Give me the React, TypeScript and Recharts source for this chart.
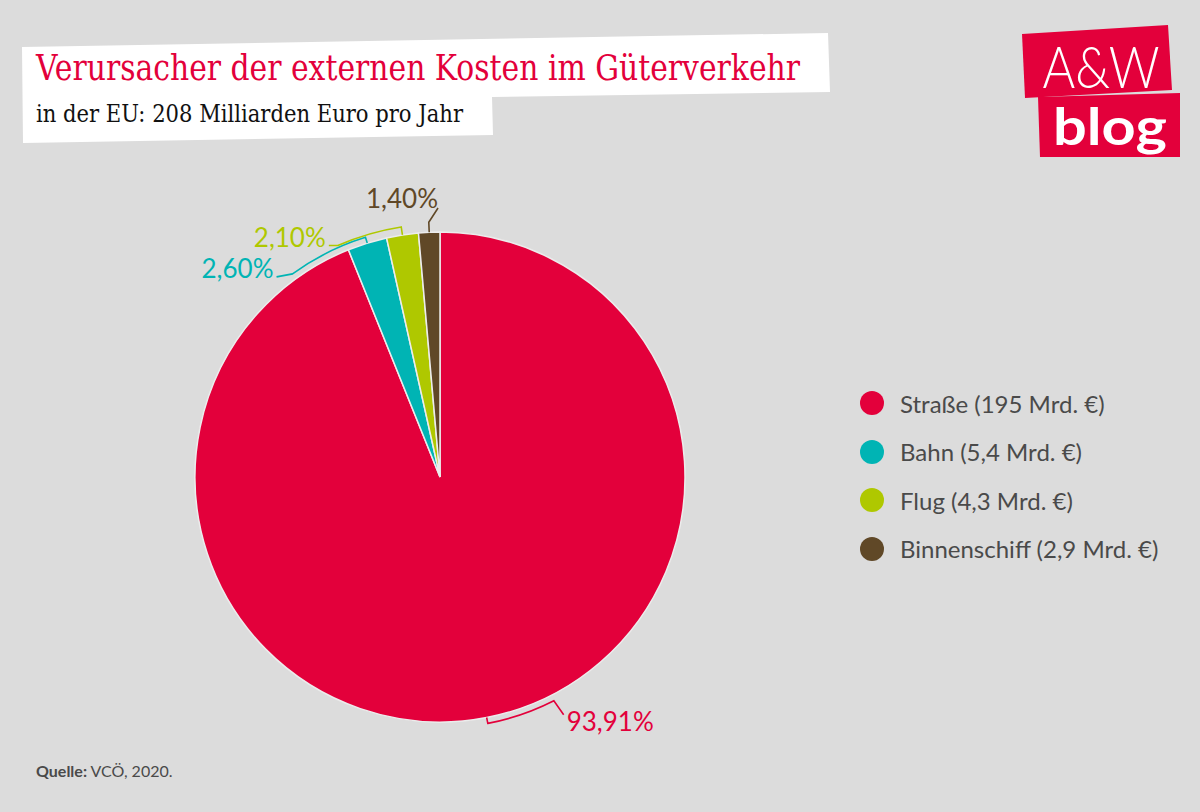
import { PieChart, Pie, Cell, Legend } from "recharts";

const categories = ["Straße", "Bahn", "Flug", "Binnenschiff"];
const costsBn = [195, 5.4, 4.3, 2.9];
const shares = [93.91, 2.6, 2.1, 1.4];
const colors = ["#e3003b", "#00b4b4", "#afc800", "#604827"];

const fmt = (n: number, digits?: number) =>
  (digits === undefined ? String(n) : n.toFixed(digits)).replace(".", ",");

const data = categories.map((name, i) => ({
  name,
  value: shares[i],
  legend: `${name} (${fmt(costsBn[i])} Mrd. €)`,
}));

// how each leader line is drawn: bracket offset, arc span (deg), tail style
const leaders = [
  { gap: 6, span: 16, tail: "radial" },
  { gap: 6, span: 18.7, tail: "left" },
  { gap: 8, span: 15, tail: "left" },
  { gap: 10, span: 0, tail: "up" },
];

const RAD = Math.PI / 180;
const pt = (cx: number, cy: number, r: number, a: number) => ({
  x: cx + r * Math.cos(a * RAD),
  y: cy - r * Math.sin(a * RAD),
});

const SANS = "Lato, 'Open Sans', sans-serif";

function renderLabel(props: any) {
  const { cx, cy, midAngle, outerRadius, index } = props;
  const cfg = leaders[index];
  const color = colors[index];
  const r = outerRadius + cfg.gap;
  const a0 = pt(cx, cy, outerRadius, midAngle);
  const a1 = pt(cx, cy, r, midAngle);
  const endA = midAngle + cfg.span;
  const a2 = pt(cx, cy, r, endA);
  let d = `M${a0.x},${a0.y} L${a1.x},${a1.y}`;
  if (cfg.span !== 0) d += ` A${r},${r} 0 0 0 ${a2.x},${a2.y}`;
  let tail = a2;
  let tx = 0;
  let ty = 0;
  let anchor: "start" | "end" = "end";
  if (cfg.tail === "radial") {
    tail = pt(cx, cy, outerRadius + 23, endA + 0.5);
    tx = tail.x + 3;
    ty = tail.y + 16;
    anchor = "start";
  } else if (cfg.tail === "left") {
    tail = { x: a2.x - (index === 1 ? 16 : 9), y: a2.y + (index === 1 ? 3 : 0) };
    tx = tail.x - 3;
    ty = tail.y + 1;
  } else {
    tail = pt(cx, cy, outerRadius + 24, midAngle - 2.1);
    tx = tail.x;
    ty = tail.y;
  }
  d += ` L${tail.x},${tail.y}`;
  return (
    <g key={`lbl-${index}`}>
      <path d={d} fill="none" stroke={color} strokeWidth={1.6} />
      <text x={tx} y={ty} textAnchor={anchor} fill={color} fontSize={26} fontFamily={SANS}>
        {fmt(shares[index], 2)}%
      </text>
    </g>
  );
}

function renderLegend() {
  return (
    <div style={{ fontFamily: SANS }}>
      {data.map((d, i) => (
        <div key={d.name} style={{ display: "flex", alignItems: "center", height: 48.5 }}>
          <span
            style={{
              width: 24,
              height: 24,
              borderRadius: 12,
              background: colors[i],
              display: "inline-block",
              marginRight: 16,
            }}
          />
          <span style={{ fontSize: 24, color: "#4a4a4a" }}>{d.legend}</span>
        </div>
      ))}
    </div>
  );
}

export default function App() {
  return (
    <div
      style={{
        position: "absolute",
        left: 0,
        top: 0,
        width: 1200,
        height: 812,
        background: "#dcdcdc",
        overflow: "hidden",
      }}
    >
      <svg width={1200} height={812} style={{ position: "absolute", left: 0, top: 0 }}>
        <polygon
          points="22,47 828,33 830,92 492,97 493,135 23,143"
          fill="#ffffff"
        />
        <text
          x={36}
          y={80}
          fill="#e3003b"
          fontSize={35}
          fontFamily="'DejaVu Serif', serif"
          textLength={764}
          lengthAdjust="spacingAndGlyphs"
        >
          Verursacher der externen Kosten im Güterverkehr
        </text>
        <text
          x={36}
          y={122}
          fill="#111111"
          fontSize={25}
          fontFamily="'DejaVu Serif', serif"
          textLength={427}
          lengthAdjust="spacingAndGlyphs"
        >
          in der EU: 208 Milliarden Euro pro Jahr
        </text>
        <polygon points="1022,34 1168,25 1172,90 1025,98" fill="#e3003b" />
        <polygon points="1038,97 1180,93 1180,157 1040,157" fill="#e3003b" />
        <text
          x={1101}
          y={88}
          textAnchor="middle"
          fill="#ffffff"
          fontSize={58}
          fontFamily={SANS}
          fontWeight={300}
          textLength={117}
          lengthAdjust="spacingAndGlyphs"
        >
          A&amp;W
        </text>
        <text
          x={1110}
          y={145}
          textAnchor="middle"
          fill="#ffffff"
          fontSize={52}
          fontFamily={SANS}
          fontWeight={700}
          textLength={114}
          lengthAdjust="spacingAndGlyphs"
        >
          blog
        </text>
        <text x={36} y={777} fontSize={16} fill="#4a4a4a" fontFamily={SANS}>
          <tspan fontWeight={700}>Quelle:</tspan> VCÖ, 2020.
        </text>
      </svg>
      <div style={{ position: "absolute", left: 0, top: 0 }}>
        <PieChart width={1200} height={812} margin={{ top: 0, right: 0, bottom: 0, left: 0 }}>
          <Pie
            data={data}
            dataKey="value"
            nameKey="name"
            cx={440}
            cy={477}
            innerRadius={0}
            outerRadius={245}
            startAngle={90}
            endAngle={-270}
            stroke="#ececec"
            strokeWidth={1.5}
            label={renderLabel}
            labelLine={false}
            isAnimationActive={false}
          >
            {data.map((d, i) => (
              <Cell key={d.name} fill={colors[i]} />
            ))}
          </Pie>
          <Legend
            layout="vertical"
            verticalAlign="top"
            align="right"
            wrapperStyle={{ left: 860, top: 379, width: 330 }}
            content={renderLegend}
          />
        </PieChart>
      </div>
    </div>
  );
}
